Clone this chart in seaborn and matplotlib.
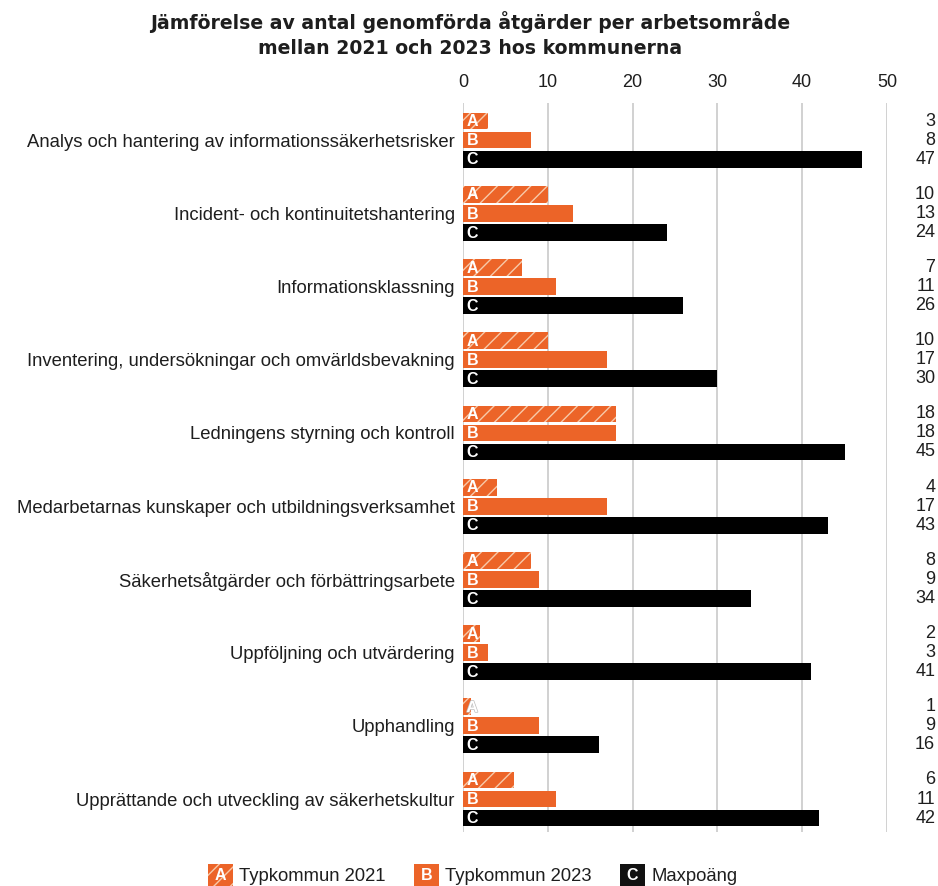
import matplotlib
matplotlib.use("Agg")
import matplotlib.pyplot as plt
import matplotlib.transforms as mtransforms
import matplotlib.patheffects as pe
from matplotlib.patches import Rectangle, Patch
from matplotlib.text import Text
from matplotlib.legend_handler import HandlerPatch
import seaborn as sns
import pandas as pd

categories = [
    "Analys och hantering av informationssäkerhetsrisker",
    "Incident- och kontinuitetshantering",
    "Informationsklassning",
    "Inventering, undersökningar och omvärldsbevakning",
    "Ledningens styrning och kontroll",
    "Medarbetarnas kunskaper och utbildningsverksamhet",
    "Säkerhetsåtgärder och förbättringsarbete",
    "Uppföljning och utvärdering",
    "Upphandling",
    "Upprättande och utveckling av säkerhetskultur",
]
typ_2021 = [3, 10, 7, 10, 18, 4, 8, 2, 1, 6]
typ_2023 = [8, 13, 11, 17, 18, 17, 9, 3, 9, 11]
maxpoang = [47, 24, 26, 30, 45, 43, 34, 41, 16, 42]
series_names = ["Typkommun 2021", "Typkommun 2023", "Maxpoäng"]
letters = ["A", "B", "C"]
x_ticks = [0, 10, 20, 30, 40, 50]

ORANGE = "#EC6428"
BLACK = "#000000"
HATCH_EDGE = "#F7C9A9"
GRID = "#C9C9C9"
TEXT = "#1E1E1E"
colors = [ORANGE, ORANGE, BLACK]

sns.set_theme(style="white")
plt.rcParams["font.family"] = ["Liberation Sans", "DejaVu Sans"]
plt.rcParams["hatch.linewidth"] = 1.0

df = pd.DataFrame({
    "Område": categories * 3,
    "Serie": sum([[s] * len(categories) for s in series_names], []),
    "Värde": typ_2021 + typ_2023 + maxpoang,
})

fig = plt.figure(figsize=(9.38, 8.86), dpi=100)
ax = fig.add_axes([0.4936, 0.061, 0.452, 0.8226])

sns.barplot(data=df, y="Område", x="Värde", hue="Serie", order=categories,
            hue_order=series_names, palette=colors, orient="h",
            width=0.78, gap=0.12, saturation=1, legend=False, ax=ax)

# hatch the 2021 bars, remove edges elsewhere
for ci, cont in enumerate(ax.containers):
    for bar in cont:
        bar.set_linewidth(0)
        if ci == 0:
            bar.set_hatch("//")
            bar.set_edgecolor(HATCH_EDGE)
        else:
            bar.set_edgecolor(colors[ci])

# letters inside the bars (outlined when the bar is too short to hold them)
for ci, cont in enumerate(ax.containers):
    for bar in cont:
        yc = bar.get_y() + bar.get_height() / 2
        short = bar.get_width() < 1.5
        effects = [pe.withStroke(linewidth=1.0, foreground="#BDBDBD")] if short else None
        ax.annotate(letters[ci], xy=(0, yc), xytext=(2.5, -0.5), textcoords="offset points",
                    ha="left", va="center", color="white", fontsize=11.5,
                    fontweight="bold", zorder=5, path_effects=effects)

# value labels on the right side
blend = mtransforms.blended_transform_factory(fig.transFigure, ax.transData)
for ci, cont in enumerate(ax.containers):
    for bar, val in zip(cont, [typ_2021, typ_2023, maxpoang][ci]):
        yc = bar.get_y() + bar.get_height() / 2
        ax.text(0.997, yc, f"{val}", transform=blend, ha="right", va="center",
                fontsize=13, color=TEXT, clip_on=False)

ax.set_xlim(0, 50)
ax.set_ylim(9.45, -0.505)
ax.set_xticks(x_ticks)
ax.set_xticklabels([str(t) for t in x_ticks])
ax.xaxis.tick_top()
ax.tick_params(axis="x", length=0, pad=9, labelsize=13, labelcolor=TEXT)
ax.tick_params(axis="y", length=0, pad=6, labelsize=13.3, labelcolor=TEXT)
ax.set_xlabel("")
ax.set_ylabel("")
for s in ax.spines.values():
    s.set_visible(False)
ax.set_axisbelow(True)
for t in x_ticks:
    ax.axvline(t, color=GRID, lw=1.2, zorder=0)

fig.text(0.501, 0.988, "Jämförelse av antal genomförda åtgärder per arbetsområde\nmellan 2021 och 2023 hos kommunerna",
         ha="center", va="top", fontsize=13.6, fontweight="bold", color=TEXT,
         family=["DejaVu Sans"], linespacing=1.4)


class LetterHandler(HandlerPatch):
    def __init__(self, letter, hatch, face, edge):
        super().__init__()
        self.letter = letter
        self.hatch = hatch
        self.face = face
        self.edge = edge

    def create_artists(self, legend, orig_handle, xdescent, ydescent, width, height, fontsize, trans):
        r = Rectangle((-xdescent, -ydescent - 2), width, height + 4, facecolor=self.face,
                      edgecolor=self.edge, hatch=self.hatch, linewidth=0)
        r.set_transform(trans)
        t = Text(-xdescent + width / 2, -ydescent + height / 2 - 0.5, self.letter, color="white",
                 ha="center", va="center", fontsize=11.5, fontweight="bold")
        t.set_transform(trans)
        return [r, t]


handles = [Patch(label=n) for n in series_names]
handler_map = {
    handles[0]: LetterHandler("A", "//", ORANGE, HATCH_EDGE),
    handles[1]: LetterHandler("B", None, ORANGE, ORANGE),
    handles[2]: LetterHandler("C", None, "#111111", "#111111"),
}
fig.legend(handles=handles, handler_map=handler_map, loc="center",
           bbox_to_anchor=(0.504, 1 - 876 / 886), ncol=3, frameon=False,
           fontsize=13.3, handlelength=1.35, handleheight=1.0, handletextpad=0.35,
           columnspacing=1.52, labelcolor=TEXT)

fig.savefig("out.png", dpi=100)
